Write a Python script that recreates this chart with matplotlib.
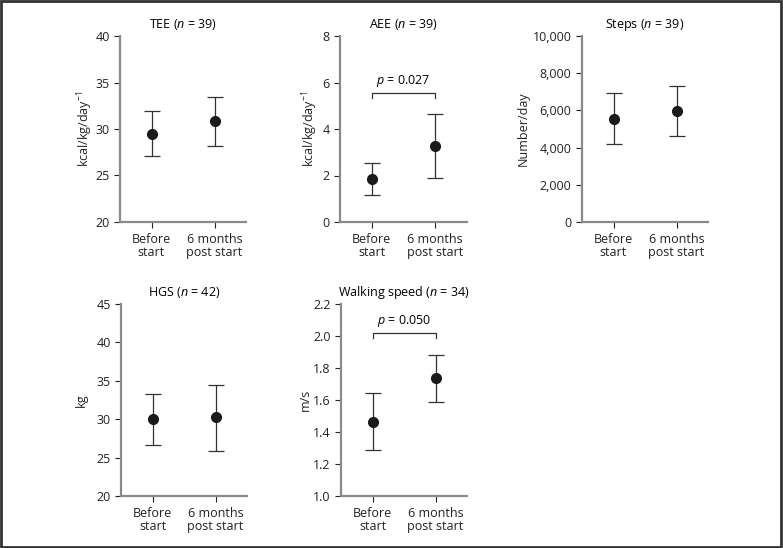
import matplotlib
matplotlib.use("Agg")
import matplotlib.pyplot as plt
from matplotlib.patches import Rectangle
from matplotlib.ticker import FuncFormatter

plt.rcParams['font.family'] = ['Open Sans', 'DejaVu Sans']
plt.rcParams['font.size'] = 9
plt.rcParams['mathtext.fontset'] = 'custom'
plt.rcParams['mathtext.rm'] = 'Open Sans'
plt.rcParams['mathtext.it'] = 'Open Sans:italic'

# data (mean, lower, upper)
groups = ["Before\nstart", "6 months\npost start"]

tee_mean = [29.5, 30.85]; tee_lo = [27.1, 28.2]; tee_hi = [31.9, 33.4]
aee_mean = [1.85, 3.25]; aee_lo = [1.15, 1.9]; aee_hi = [2.55, 4.65]
steps_mean = [5550, 5950]; steps_lo = [4200, 4600]; steps_hi = [6950, 7300]
hgs_mean = [30.0, 30.25]; hgs_lo = [26.7, 25.9]; hgs_hi = [33.3, 34.5]
walk_mean = [1.465, 1.735]; walk_lo = [1.29, 1.59]; walk_hi = [1.645, 1.88]

panels = [
    # title, n, ylabel, mean, lo, hi, ylim, ticks, p text, bracket y, labelpad, position
    ("TEE", 39, "kcal/kg/day$^{-1}$", tee_mean, tee_lo, tee_hi, (20, 40), [20, 25, 30, 35, 40], None, None, 0.5,
     [120/783, 1-222/548, 126/783, 186/548]),
    ("AEE", 39, "kcal/kg/day$^{-1}$", aee_mean, aee_lo, aee_hi, (0, 8), [0, 2, 4, 6, 8], "0.027", 5.55, 2,
     [340/783, 1-222/548, 127/783, 186/548]),
    ("Steps", 39, "Number/day", steps_mean, steps_lo, steps_hi, (0, 10000), [0, 2000, 4000, 6000, 8000, 10000], None, None, 2,
     [582/783, 1-222/548, 126/783, 186/548]),
    ("HGS", 42, "kg", hgs_mean, hgs_lo, hgs_hi, (20, 45), [20, 25, 30, 35, 40, 45], None, None, 6,
     [121/783, 1-496/548, 126/783, 192/548]),
    ("Walking speed", 34, "m/s", walk_mean, walk_lo, walk_hi, (1.0, 2.2), [1.0, 1.2, 1.4, 1.6, 1.8, 2.0, 2.2], "0.050", 2.02, 0.5,
     [341/783, 1-496/548, 126/783, 192/548]),
]

fig = plt.figure(figsize=(7.83, 5.48), dpi=100)
fig.patches.append(Rectangle((0.001, 0.002), 0.997, 0.996, transform=fig.transFigure,
                             fill=False, edgecolor="#333333", linewidth=2))

for title, n, ylab, mean, lo, hi, ylim, ticks, ptxt, by, lpad, pos in panels:
    ax = fig.add_axes(pos)
    x = [0, 1]
    yerr = [[m - l for m, l in zip(mean, lo)], [h - m for m, h in zip(mean, hi)]]
    ax.errorbar(x, mean, yerr=yerr, fmt='o', color="#1a1a1a", ecolor="#333333",
                elinewidth=0.9, capsize=6, capthick=0.9, markersize=7)
    ax.set_xlim(-0.5, 1.5)
    ax.set_ylim(*ylim)
    ax.set_yticks(ticks)
    if ylim[1] == 10000:
        ax.yaxis.set_major_formatter(FuncFormatter(lambda v, p: f"{int(v):,}"))
    elif ylim[1] == 2.2:
        ax.yaxis.set_major_formatter(FuncFormatter(lambda v, p: f"{v:.1f}"))
    ax.set_xticks(x)
    ax.set_xticklabels(groups, linespacing=0.95)
    ax.set_ylabel(ylab, color="#222222", labelpad=lpad)
    ax.set_title(f"{title} ($n$ = {n})", fontsize=9, pad=6)
    for s in ["top", "right"]:
        ax.spines[s].set_visible(False)
    for s in ["left", "bottom"]:
        ax.spines[s].set_color("#8a8a8a")
        ax.spines[s].set_linewidth(1.6)
    ax.tick_params(colors="#222222", length=4, width=0.8)
    ax.tick_params(axis='x', pad=4)
    if ptxt is not None:
        span = ylim[1] - ylim[0]
        d = span * 0.025
        ax.plot([0, 0, 1, 1], [by - d, by, by, by - d], color="#333333", linewidth=0.9)
        ax.text(0.5, by + d * 0.8, f"$p$ = {ptxt}", ha="center", va="bottom", fontsize=9)

fig.savefig("out.png", dpi=100)
